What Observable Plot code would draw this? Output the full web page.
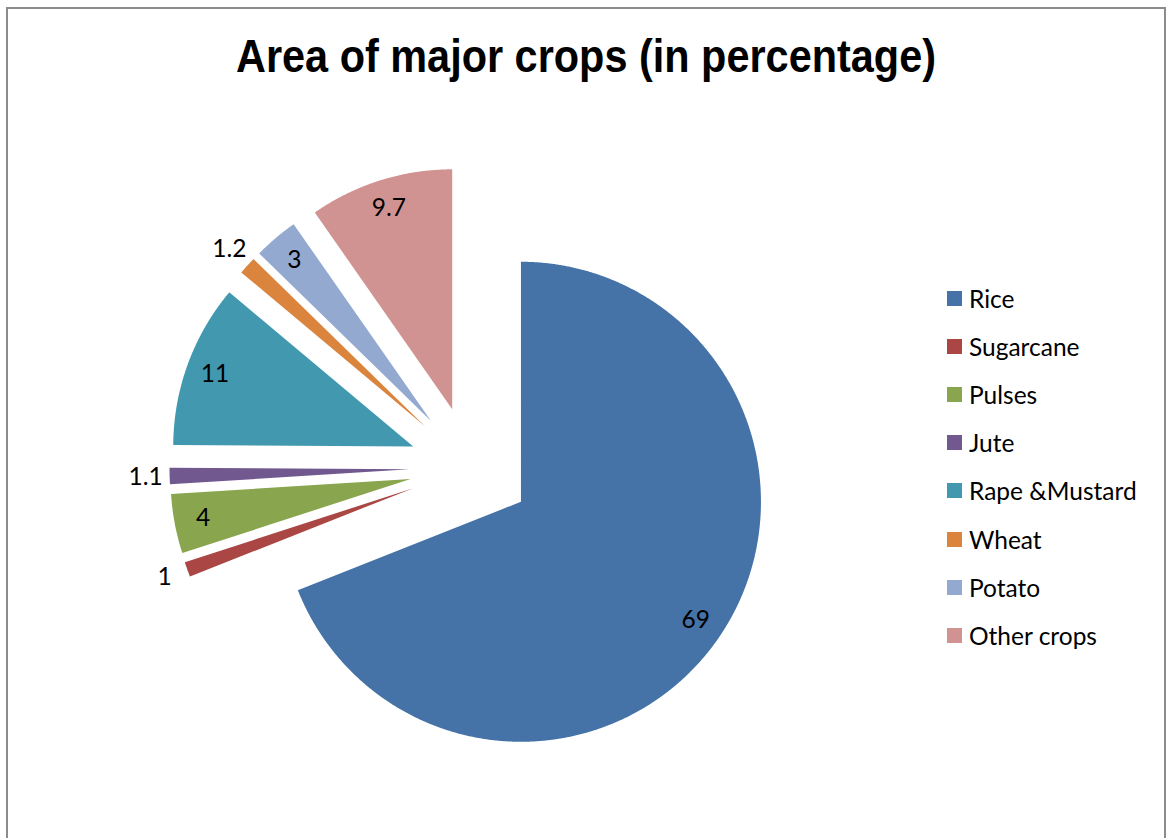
<!DOCTYPE html>
<html>
<head>
<meta charset="utf-8">
<script src="https://cdn.jsdelivr.net/npm/d3@7"></script>
<script src="https://cdn.jsdelivr.net/npm/@observablehq/plot@0.6"></script>
<style>
  body { margin: 0; background: #fff; }
  #page { position: relative; width: 1166px; height: 838px; overflow: hidden; background: #fff; }
  #frame { position: absolute; left: 6px; top: 7px; width: 1160px; height: 900px; border: 2px solid #8c8c8c; border-bottom: none; box-sizing: border-box; }
  #chart { position: absolute; left: 0; top: 0; }
  #title { position: absolute; left: 236px; top: 26px; font-family: "Liberation Sans", Arial, sans-serif; font-weight: bold; font-size: 46px; line-height: 60px; color: #000; white-space: nowrap; transform-origin: 0 0; display: inline-block; }
  #legend { position: absolute; left: 947px; top: 274px; font-family: Lato, "Open Sans", sans-serif; font-size: 24.5px; color: #000; }
  .row { display: flex; align-items: center; height: 48.2px; }
  .sw { width: 15px; height: 15px; margin-right: 7px; flex: none; }
</style>
</head>
<body>
<div id="page">
  <div id="frame"></div>
  <div id="chart"></div>
  <div id="title">Area of major crops (in percentage)</div>
  <div id="legend"></div>
</div>
<script>
// ---- data ----
const crops = ["Rice", "Sugarcane", "Pulses", "Jute", "Rape &Mustard", "Wheat", "Potato", "Other crops"];
const values = [69, 1, 4, 1.1, 11, 1.2, 3, 9.7];
const colors = ["#4572A7", "#AA4643", "#89A54E", "#71588F", "#4198AF", "#DB843D", "#93A9CF", "#D19392"];

// ---- layout (pixels) ----
const W = 1166, H = 838;
const R = 240;            // pie radius in px
const CX = 470, CY = 467; // pie centre in px
const EXPLODE = 61 / R;   // explosion distance (radius units)

const total = d3.sum(values);
const slices = [];
let acc = 0;
values.forEach((v, i) => {
  const a0 = acc / total * 2 * Math.PI;
  acc += v;
  const a1 = acc / total * 2 * Math.PI;
  slices.push({crop: crops[i], value: v, a0, a1, mid: (a0 + a1) / 2});
});

// polygon outlines of each exploded slice (angles clockwise from 12 o'clock)
const pts = [];
for (const s of slices) {
  const ox = EXPLODE * Math.sin(s.mid), oy = EXPLODE * Math.cos(s.mid);
  pts.push({crop: s.crop, x: ox, y: oy});
  const n = Math.max(2, Math.ceil((s.a1 - s.a0) / (Math.PI / 720)));
  for (let k = 0; k <= n; k++) {
    const a = s.a0 + (s.a1 - s.a0) * k / n;
    pts.push({crop: s.crop, x: ox + Math.sin(a), y: oy + Math.cos(a)});
  }
}

// data labels: inside for large slices, outside for small ones
const labels = slices.map(s => {
  const ox = EXPLODE * Math.sin(s.mid), oy = EXPLODE * Math.cos(s.mid);
  const f = s.value < 2 ? 1.1 : 0.88;
  return {text: String(s.value), x: ox + f * Math.sin(s.mid), y: oy + f * Math.cos(s.mid)};
});

const chart = Plot.plot({
  width: W,
  height: H,
  margin: 0,
  style: {background: "transparent", overflow: "visible"},
  x: {domain: [-CX / R, (W - CX) / R], axis: null},
  y: {domain: [-(H - CY) / R, CY / R], axis: null},
  color: {domain: crops, range: colors},
  marks: [
    Plot.line(pts, {x: "x", y: "y", z: "crop", fill: "crop", stroke: "none", curve: "linear-closed"}),
    Plot.text(labels, {x: "x", y: "y", text: "text", fontSize: 24.5, fontFamily: "Lato, 'Open Sans', sans-serif", fill: "#000"})
  ]
});
document.getElementById("chart").appendChild(chart);

// title: condensed to the reference width
const title = document.getElementById("title");
const tw = title.getBoundingClientRect().width;
title.style.transform = `scaleX(${700 / tw})`;

// legend
const legend = document.getElementById("legend");
crops.forEach((c, i) => {
  const row = document.createElement("div");
  row.className = "row";
  const sw = document.createElement("div");
  sw.className = "sw";
  sw.style.background = colors[i];
  const t = document.createElement("span");
  t.textContent = c;
  row.appendChild(sw);
  row.appendChild(t);
  legend.appendChild(row);
});
</script>
</body>
</html>
